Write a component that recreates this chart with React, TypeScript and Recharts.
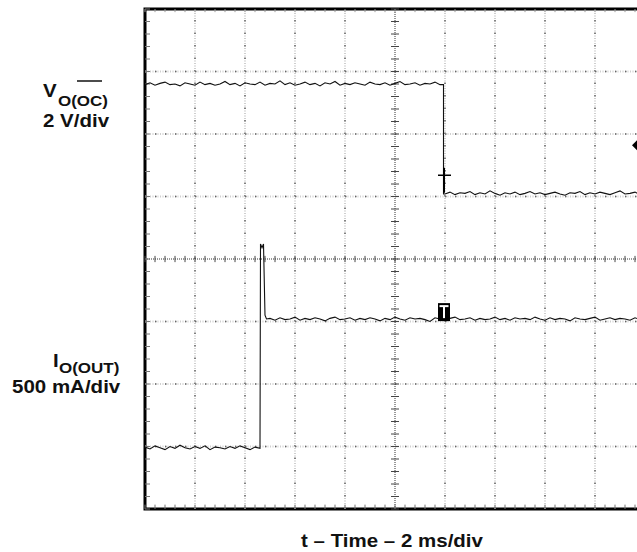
import { LineChart, Line, XAxis, YAxis, ReferenceLine, ReferenceArea, ReferenceDot } from 'recharts'

// scope screen: 10 divisions of 2 ms across, 8 divisions up/down
// trace values are in screen divisions measured from the centre line
const SAMPLE_MS = 0.2
const timeGrid = [2, 4, 6, 8, 12, 14, 16, 18]
const divGrid = [-3, -2, -1, 1, 2, 3]

// V_O(OC), 2 V/div
const vocHigh = [
  2.79, 2.82, 2.78, 2.81, 2.83, 2.79, 2.8, 2.77, 2.82, 2.8,
  2.78, 2.83, 2.79, 2.81, 2.78, 2.8, 2.84, 2.79, 2.81, 2.77,
  2.82, 2.8, 2.79, 2.83, 2.78, 2.81, 2.8, 2.85, 2.79, 2.82,
  2.78, 2.8, 2.83, 2.79, 2.81, 2.77, 2.82, 2.8, 2.84, 2.78,
  2.81, 2.79, 2.82, 2.8, 2.78, 2.83, 2.8, 2.79, 2.82, 2.78,
  2.81, 2.84, 2.79, 2.8, 2.82, 2.78, 2.81, 2.8, 2.83, 2.79,
] // 0 .. 11.8 ms
const vocFallMs = 11.94
const vocLowStartMs = 12
const vocLow = [
  1.04, 1.07, 1.03, 1.06, 1.05, 1.08, 1.03, 1.06, 1.04, 1.09,
  1.05, 1.02, 1.06, 1.04, 1.07, 1.03, 1.05, 1.08, 1.04, 1.06,
  1.03, 1.05, 1.07, 1.04, 1.02, 1.06, 1.05, 1.08, 1.03, 1.06,
  1.04, 1.07, 1.05, 1.03, 1.06, 1.09, 1.04, 1.05, 1.07, 1.03, 1.06,
] // 12 .. 20 ms

// I_O(OUT), 500 mA/div
const ioutLow = [
  -3.01, -3.04, -2.99, -3.02, -3.05, -3.0, -3.03, -2.98, -3.02, -3.04,
  -3.0, -3.03, -2.99, -3.05, -3.01, -3.02, -3.04, -3.0, -3.03, -2.99,
  -3.02, -3.05, -3.01, -3.03,
] // 0 .. 4.6 ms
const ioutSpike = [
  { t: 4.62, v: 0.24 },
  { t: 4.68, v: 0.18 },
  { t: 4.74, v: 0.24 },
  { t: 4.8, v: -0.9 },
  { t: 4.86, v: -0.96 },
]
const ioutHighStartMs = 5
const ioutHigh = [
  -0.95, -0.98, -0.94, -0.97, -0.96, -0.93, -0.98, -0.95, -0.97, -0.94,
  -0.96, -0.99, -0.95, -0.93, -0.97, -0.96, -0.94, -0.98, -0.95, -0.97,
  -0.94, -0.96, -0.99, -0.95, -0.97, -0.93, -0.96, -0.98, -0.94, -0.96,
  -0.95, -0.97, -1.0, -0.94, -0.96, -0.98, -0.95, -0.93, -0.97, -0.96,
  -0.94, -0.98, -0.95, -0.97, -0.96, -0.93, -0.97, -0.95, -0.98, -0.94,
  -0.96, -0.95, -0.97, -0.93, -0.96, -0.98, -0.94, -0.97, -0.95, -0.96,
  -0.99, -0.94, -0.96, -0.97, -0.95, -0.93, -0.98, -0.96, -0.94, -0.97,
  -0.95, -0.96, -0.98, -0.94, -0.97, -0.95,
] // 5 .. 20 ms

// markers on screen
const cursorMark = { t: 11.96, v: 1.34 }
const triggerMark = { t: 11.96, v: -0.85 }
const refMark = { t: 19.8, v: 1.82 }

const vocData = [
  ...vocHigh.map((v, i) => ({ t: i * SAMPLE_MS, v })),
  { t: vocFallMs, v: vocHigh[vocHigh.length - 1] },
  { t: vocFallMs, v: vocLow[0] },
  ...vocLow.map((v, i) => ({ t: vocLowStartMs + i * SAMPLE_MS, v })),
]

const ioutData = [
  ...ioutLow.map((v, i) => ({ t: i * SAMPLE_MS, v })),
  ...ioutSpike,
  ...ioutHigh.map((v, i) => ({ t: ioutHighStartMs + i * SAMPLE_MS, v })),
]

// minor ticks (5 per division) on the centre cross and the frame edges
const hMinor = Array.from({ length: 51 }, (_, i) => i * 0.4)
const vMinor = Array.from({ length: 41 }, (_, i) => -4 + i * 0.2)

const font = "Arial, 'Liberation Sans', Helvetica, sans-serif"

const Diamond = (p: any) => (
  <path d={`M${p.cx - 8},${p.cy} L${p.cx},${p.cy - 8} L${p.cx + 8},${p.cy} L${p.cx},${p.cy + 8} Z`} fill="#000" />
)

const Trigger = (p: any) => (
  <g>
    <rect x={p.cx - 6} y={p.cy - 9} width={12} height={18} fill="#000" />
    <rect x={p.cx - 4.5} y={p.cy - 7} width={9} height={2} fill="#fff" />
    <rect x={p.cx - 1} y={p.cy - 6} width={2} height={12} fill="#fff" />
  </g>
)

export default function App() {
  return (
    <div style={{ position: 'absolute', left: 0, top: 0, width: 637, height: 552, overflow: 'hidden', background: '#fff' }}>
      <LineChart width={700} height={552} margin={{ top: 9, right: 55, bottom: 43, left: 145 }}>
        <XAxis dataKey="t" type="number" domain={[0, 20]} hide />
        <YAxis type="number" domain={[-4, 4]} hide />

        {timeGrid.map((t) => (
          <ReferenceLine key={'gx' + t} x={t} stroke="#cfcfcf" strokeWidth={2} strokeDasharray="1 1.5" />
        ))}
        {timeGrid.map((t) => (
          <ReferenceLine key={'dx' + t} x={t} stroke="#666" strokeWidth={1.5} strokeDasharray="1.5 11" />
        ))}
        {divGrid.map((d) => (
          <ReferenceLine key={'gy' + d} y={d} stroke="#cfcfcf" strokeWidth={2} strokeDasharray="1 1.5" />
        ))}
        {divGrid.map((d) => (
          <ReferenceLine key={'dy' + d} y={d} stroke="#666" strokeWidth={1.5} strokeDasharray="1.5 8.5" />
        ))}

        <ReferenceLine y={0} stroke="#333" strokeWidth={1} strokeDasharray="1 1" />
        <ReferenceLine x={10} stroke="#333" strokeWidth={1} strokeDasharray="1 1" />
        {hMinor.map((t) => (
          <ReferenceLine key={'hm' + t} segment={[{ x: t, y: -0.05 }, { x: t, y: 0.05 }]} stroke="#444" strokeWidth={1} />
        ))}
        {vMinor.map((d) => (
          <ReferenceLine key={'vm' + d} segment={[{ x: 9.84, y: d }, { x: 10.16, y: d }]} stroke="#444" strokeWidth={1} />
        ))}
        {hMinor.map((t) => (
          <ReferenceLine key={'bm' + t} segment={[{ x: t, y: -4 }, { x: t, y: -3.93 }]} stroke="#777" strokeWidth={1} />
        ))}
        {hMinor.map((t) => (
          <ReferenceLine key={'tm' + t} segment={[{ x: t, y: 4 }, { x: t, y: 3.95 }]} stroke="#999" strokeWidth={1} />
        ))}
        {vMinor.map((d) => (
          <ReferenceLine key={'lm' + d} segment={[{ x: 0, y: d }, { x: 0.2, y: d }]} stroke="#777" strokeWidth={1} />
        ))}

        <ReferenceArea x1={0} x2={20} y1={-4} y2={4} fill="none" stroke="#000" strokeWidth={3} />

        <Line data={vocData} dataKey="v" type="linear" stroke="#111" strokeWidth={1.1} dot={false} isAnimationActive={false} />
        <Line data={ioutData} dataKey="v" type="linear" stroke="#111" strokeWidth={1.1} dot={false} isAnimationActive={false} />

        <ReferenceLine segment={[{ x: cursorMark.t - 0.24, y: cursorMark.v }, { x: cursorMark.t + 0.28, y: cursorMark.v }]} stroke="#000" strokeWidth={1.5} />
        <ReferenceLine segment={[{ x: cursorMark.t, y: cursorMark.v + 0.12 }, { x: cursorMark.t, y: cursorMark.v - 0.28 }]} stroke="#000" strokeWidth={2} />
        <ReferenceDot x={triggerMark.t} y={triggerMark.v} shape={Trigger} />
        <ReferenceDot x={refMark.t} y={refMark.v} shape={Diamond} ifOverflow="visible" />
      </LineChart>

      <svg width={637} height={552} style={{ position: 'absolute', left: 0, top: 0 }}>
        <g fontFamily={font} fontWeight="bold" fill="#111">
          <text transform="translate(43,97) scale(1,0.9)" fontSize={20.5}>V</text>
          <text transform="translate(58,106) scale(1,0.9)" fontSize={17}>O(OC)</text>
          <line x1={77} x2={102} y1={81} y2={81} stroke="#111" strokeWidth={1.5} />
          <text transform="translate(43,127) scale(1,0.9)" fontSize={20.5}>2 V/div</text>

          <text transform="translate(53,367) scale(1,0.9)" fontSize={20.5}>I</text>
          <text transform="translate(59,373) scale(1,0.9)" fontSize={17}>O(OUT)</text>
          <text transform="translate(12,393) scale(1,0.9)" fontSize={20.5}>500 mA/div</text>

          <text transform="translate(392,547) scale(1,0.9)" fontSize={20.5} textAnchor="middle">t – Time – 2 ms/div</text>
        </g>
      </svg>
    </div>
  )
}
